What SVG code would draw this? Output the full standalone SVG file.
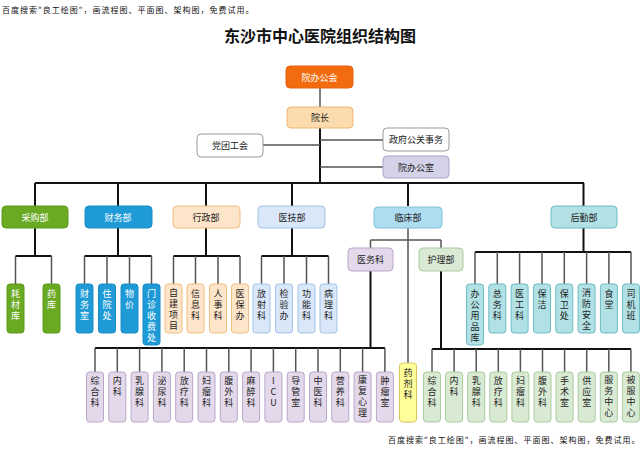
<svg xmlns="http://www.w3.org/2000/svg" width="640" height="450" viewBox="0 0 640 450">
<style>
text{font-family:"Noto Sans CJK SC","Noto Sans",sans-serif;font-size:9px;fill:#222;text-anchor:middle;dominant-baseline:central}
.v{writing-mode:vertical-rl;text-orientation:upright;letter-spacing:2px;text-anchor:start}
.wm{font-size:8px;text-anchor:start;fill:#111;letter-spacing:1px}
.title{font-size:16px;font-weight:bold;fill:#111}
.w{fill:#fff}
rect{stroke-width:1}
.org{fill:#F26B0F;stroke:#E46210}
.yz{fill:#FCDCAE;stroke:#EDB674}
.wt{fill:#fff;stroke:#9a9a9a}
.lav{fill:#D4D2E9;stroke:#A9A5CD}
.grn{fill:#6AAA23;stroke:#5C9A1C}
.blu{fill:#1E9BD7;stroke:#1A8CC4}
.ora{fill:#FDE5C9;stroke:#F2BE84}
.lb{fill:#D9E7F8;stroke:#A3C3E8}
.cy{fill:#AEDCF0;stroke:#7EC0DC}
.pur{fill:#E4D9EB;stroke:#B9A6C9}
.lg{fill:#D9EAD4;stroke:#A9CB9F}
.yel{fill:#FFFF99;stroke:#D8C65A}
.tl{fill:#B1E1E4;stroke:#6CBCC3}
.k{stroke:#111;stroke-width:2;fill:none}
.g{stroke:#555;stroke-width:1.5;fill:none}
</style>
<text class="wm" x="2" y="9">百度搜索"良工绘图"，画流程图、平面图、架构图，免费试用。</text>
<text class="wm" x="388" y="439">百度搜索"良工绘图"，画流程图、平面图、架构图，免费试用。</text>
<text class="title" x="320" y="35">东沙市中心医院组织结构图</text>

<g id="connectors">
<path class="g" d="M320 88V107"/>
<path class="k" d="M320 128V183"/>
<path class="g" d="M263 145H320M320 140H383M320 167H383"/>
<path class="k" d="M35 183H584"/>
<path class="k" d="M35 183V206M118 183V206M206 183V206M292 183V206M408 183V206M583.5 183V206"/>
<path class="k" d="M35 228V256M15.5 256H51.5"/>
<path class="g" d="M15.5 256V284M51.5 256V284"/>
<path class="k" d="M118 228V256M84.5 256H151.5"/>
<path class="g" d="M84.5 256V284M107 256V284M129.5 256V284M151.5 256V284"/>
<path class="k" d="M206 228V256M173.5 256H240"/>
<path class="g" d="M173.5 256V284M195.5 256V284M218 256V284M240 256V284"/>
<path class="k" d="M292 228V256M261.5 256H328.5"/>
<path class="g" d="M261.5 256V284M284 256V284M306.5 256V284M328.5 256V284"/>
<path class="g" d="M408 228V363M370.5 240H441M370.5 240V248M441 240V248"/>
<path class="k" d="M370.5 271V348M95 348H385"/>
<path class="g" d="M95 348V372M117.3 348V372M139.6 348V372M161.9 348V372M184.2 348V372M206.5 348V372M228.8 348V372M251.1 348V372M273.4 348V372M295.7 348V372M318 348V372M340.3 348V372M362.6 348V372M384.9 348V372"/>
<path class="k" d="M441 271V349M432 349H631"/>
<path class="g" d="M432 349V372M454.1 349V372M476.2 349V372M498.3 349V372M520.4 349V372M542.5 349V372M564.6 349V372M586.7 349V372M608.8 349V372M630.9 349V372"/>
<path class="k" d="M583.5 228V252M475 252H631"/>
<path class="g" d="M475 252V284M497.3 252V284M519.6 252V284M542 252V284M564.3 252V284M586.6 252V284M608.9 252V284M631 252V284"/>
</g>

<g id="n-yuanbangonghui"><rect class="org" x="286" y="66" width="67" height="22" rx="4"/><text class="w" x="319.5" y="77">院办公会</text></g>
<g id="n-yuanzhang"><rect class="yz" x="287" y="107" width="66" height="21" rx="4"/><text x="320" y="117.5">院长</text></g>
<g id="n-dangtuangonghui"><rect class="wt" x="197" y="134" width="66" height="23" rx="4"/><text x="230" y="145.5">党团工会</text></g>
<g id="n-zhengfu"><rect class="wt" x="383" y="128" width="66" height="23" rx="4"/><text x="416" y="139.5">政府公关事务</text></g>
<g id="n-yuanbangongshi"><rect class="lav" x="383" y="156" width="66" height="22" rx="4"/><text x="416" y="167">院办公室</text></g>

<g id="n-caigou"><rect class="grn" x="2" y="206" width="66" height="22" rx="4"/><text class="w" x="35" y="217">采购部</text></g>
<g id="n-caiwu"><rect class="blu" x="85" y="206" width="67" height="22" rx="4"/><text class="w" x="118" y="217">财务部</text></g>
<g id="n-xingzheng"><rect class="ora" x="173" y="206" width="67" height="22" rx="4"/><text x="206" y="217">行政部</text></g>
<g id="n-yiji"><rect class="lb" x="258" y="206" width="67" height="22" rx="4"/><text x="292" y="217">医技部</text></g>
<g id="n-linchuang"><rect class="cy" x="374" y="207" width="68" height="21" rx="4"/><text x="408" y="217.5">临床部</text></g>
<g id="n-houqin"><rect class="tl" x="551" y="206" width="66" height="22" rx="4"/><text x="584" y="217">后勤部</text></g>

<g id="n-yiwuke"><rect class="pur" x="348" y="248" width="45" height="23" rx="4"/><text x="370.5" y="259.5">医务科</text></g>
<g id="n-hulibu"><rect class="lg" x="419" y="248" width="44" height="23" rx="4"/><text x="441" y="259.5">护理部</text></g>

<g id="n-haocaiku"><rect class="grn" x="7" y="284" width="17" height="49" rx="3"/><text class="v w" x="15.5" y="289">耗材库</text></g>
<g id="n-yaoku"><rect class="grn" x="43" y="284" width="17" height="49" rx="3"/><text class="v w" x="51.5" y="289">药库</text></g>

<g id="n-caiwushi"><rect class="blu" x="76" y="284" width="17" height="49" rx="3"/><text class="v w" x="84.5" y="289">财务室</text></g>
<g id="n-zhuyuanchu"><rect class="blu" x="98.5" y="284" width="17" height="49" rx="3"/><text class="v w" x="107" y="289">住院处</text></g>
<g id="n-wujia"><rect class="blu" x="121" y="284" width="17" height="49" rx="3"/><text class="v w" x="129.5" y="289">物价</text></g>
<g id="n-menzhen"><rect class="blu" x="143" y="284" width="17" height="61" rx="3"/><text class="v w" x="151.5" y="289">门诊收费处</text></g>

<g id="n-zijian"><rect class="ora" x="165" y="284" width="17" height="49" rx="3"/><text class="v" x="173.5" y="288">自建项目</text></g>
<g id="n-xinxi"><rect class="ora" x="187" y="284" width="17" height="49" rx="3"/><text class="v" x="195.5" y="289">信息科</text></g>
<g id="n-renshi"><rect class="ora" x="209.5" y="284" width="17" height="49" rx="3"/><text class="v" x="218" y="289">人事科</text></g>
<g id="n-yibao"><rect class="ora" x="231.5" y="284" width="17" height="49" rx="3"/><text class="v" x="240" y="289">医保办</text></g>

<g id="n-fangshe"><rect class="lb" x="253" y="284" width="17" height="49" rx="3"/><text class="v" x="261.5" y="289">放射科</text></g>
<g id="n-jianyan"><rect class="lb" x="275.5" y="284" width="17" height="49" rx="3"/><text class="v" x="284" y="289">检验办</text></g>
<g id="n-gongneng"><rect class="lb" x="298" y="284" width="17" height="49" rx="3"/><text class="v" x="306.5" y="289">功能科</text></g>
<g id="n-bingli"><rect class="lb" x="320" y="284" width="17" height="49" rx="3"/><text class="v" x="328.5" y="289">病理科</text></g>

<g id="n-bangong"><rect class="tl" x="466.5" y="284" width="17" height="61" rx="3"/><text class="v" x="475" y="289">办公用品库</text></g>
<g id="n-zongwu"><rect class="tl" x="488.8" y="284" width="17" height="49" rx="3"/><text class="v" x="497.3" y="289">总务科</text></g>
<g id="n-yigong"><rect class="tl" x="511.1" y="284" width="17" height="49" rx="3"/><text class="v" x="519.6" y="289">医工科</text></g>
<g id="n-baojie"><rect class="tl" x="533.5" y="284" width="17" height="49" rx="3"/><text class="v" x="542" y="289">保洁</text></g>
<g id="n-baowei"><rect class="tl" x="555.8" y="284" width="17" height="49" rx="3"/><text class="v" x="564.3" y="289">保卫处</text></g>
<g id="n-xiaofang"><rect class="tl" x="578.1" y="284" width="17" height="49" rx="3"/><text class="v" x="586.6" y="288">消防安全</text></g>
<g id="n-shitang"><rect class="tl" x="600.4" y="284" width="17" height="49" rx="3"/><text class="v" x="608.9" y="289">食堂</text></g>
<g id="n-sijiban"><rect class="tl" x="622.5" y="284" width="17" height="49" rx="3"/><text class="v" x="631" y="289">司机班</text></g>

<g id="n-yaoji"><rect class="yel" x="399.5" y="363" width="17" height="59" rx="3"/><text class="v" x="408" y="368">药剂科</text></g>

<g id="n-yw-zonghe"><rect class="pur" x="86.5" y="372" width="17" height="50" rx="3"/><text class="v" x="95" y="376">综合科</text></g>
<g id="n-yw-neike"><rect class="pur" x="108.8" y="372" width="17" height="50" rx="3"/><text class="v" x="117.3" y="376">内科</text></g>
<g id="n-yw-ruxian"><rect class="pur" x="131.1" y="372" width="17" height="50" rx="3"/><text class="v" x="139.6" y="376">乳腺科</text></g>
<g id="n-yw-miniao"><rect class="pur" x="153.4" y="372" width="17" height="50" rx="3"/><text class="v" x="161.9" y="376">泌尿科</text></g>
<g id="n-yw-fangliao"><rect class="pur" x="175.7" y="372" width="17" height="50" rx="3"/><text class="v" x="184.2" y="376">放疗科</text></g>
<g id="n-yw-fuliu"><rect class="pur" x="198" y="372" width="17" height="50" rx="3"/><text class="v" x="206.5" y="376">妇瘤科</text></g>
<g id="n-yw-fuwai"><rect class="pur" x="220.3" y="372" width="17" height="50" rx="3"/><text class="v" x="228.8" y="376">腹外科</text></g>
<g id="n-yw-mazui"><rect class="pur" x="242.6" y="372" width="17" height="50" rx="3"/><text class="v" x="251.1" y="376">麻醉科</text></g>
<g id="n-yw-icu"><rect class="pur" x="264.9" y="372" width="17" height="50" rx="3"/><text class="v" x="273.4" y="376">ICU</text></g>
<g id="n-yw-daoguan"><rect class="pur" x="287.2" y="372" width="17" height="50" rx="3"/><text class="v" x="295.7" y="376">导管室</text></g>
<g id="n-yw-zhongyi"><rect class="pur" x="309.5" y="372" width="17" height="50" rx="3"/><text class="v" x="318" y="376">中医科</text></g>
<g id="n-yw-yingyang"><rect class="pur" x="331.8" y="372" width="17" height="50" rx="3"/><text class="v" x="340.3" y="376">营养科</text></g>
<g id="n-yw-kangfu"><rect class="pur" x="354.1" y="372" width="17" height="50" rx="3"/><text class="v" x="362.6" y="375">康复心理</text></g>
<g id="n-yw-zhongliu"><rect class="pur" x="376.4" y="372" width="17" height="50" rx="3"/><text class="v" x="384.9" y="376">肿瘤室</text></g>

<g id="n-hl-zonghe"><rect class="lg" x="423.5" y="372" width="17" height="50" rx="3"/><text class="v" x="432" y="376">综合科</text></g>
<g id="n-hl-neike"><rect class="lg" x="445.6" y="372" width="17" height="50" rx="3"/><text class="v" x="454.1" y="376">内科</text></g>
<g id="n-hl-ruxian"><rect class="lg" x="467.7" y="372" width="17" height="50" rx="3"/><text class="v" x="476.2" y="376">乳腺科</text></g>
<g id="n-hl-fangliao"><rect class="lg" x="489.8" y="372" width="17" height="50" rx="3"/><text class="v" x="498.3" y="376">放疗科</text></g>
<g id="n-hl-fuliu"><rect class="lg" x="511.9" y="372" width="17" height="50" rx="3"/><text class="v" x="520.4" y="376">妇瘤科</text></g>
<g id="n-hl-fuwai"><rect class="lg" x="534" y="372" width="17" height="50" rx="3"/><text class="v" x="542.5" y="376">腹外科</text></g>
<g id="n-hl-shoushu"><rect class="lg" x="556.1" y="372" width="17" height="50" rx="3"/><text class="v" x="564.6" y="376">手术室</text></g>
<g id="n-hl-gongying"><rect class="lg" x="578.2" y="372" width="17" height="50" rx="3"/><text class="v" x="586.7" y="376">供应室</text></g>
<g id="n-hl-fuwu"><rect class="lg" x="600.3" y="372" width="17" height="50" rx="3"/><text class="v" x="608.8" y="375">服务中心</text></g>
<g id="n-hl-beifu"><rect class="lg" x="622.4" y="372" width="17" height="50" rx="3"/><text class="v" x="630.9" y="375">被服中心</text></g>
</svg>
